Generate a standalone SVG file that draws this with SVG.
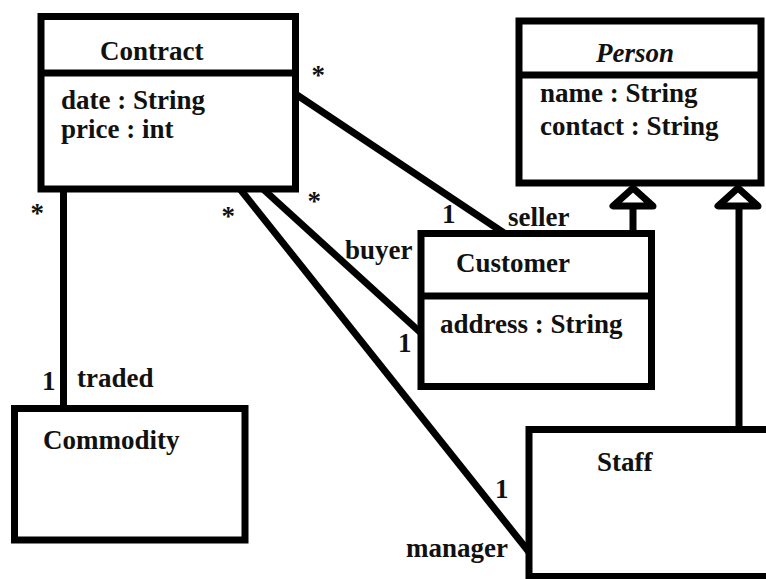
<svg xmlns="http://www.w3.org/2000/svg" width="766" height="579" viewBox="0 0 766 579">
<style>
.box{fill:#fff;stroke:#000;stroke-width:7}
.ln{fill:none;stroke:#000;stroke-width:7}
.tri{fill:#fff;stroke:#000;stroke-width:7;stroke-linejoin:round}
text{font-family:"Liberation Serif","Times New Roman",serif;font-weight:bold;font-size:27px;fill:#111}
.it{font-style:italic}
</style>
<rect width="766" height="579" fill="#fff"/>
<g id="connectors">
<line class="ln" x1="63.5" y1="189" x2="63.5" y2="408"/>
<line class="ln" x1="297" y1="95" x2="504" y2="233"/>
<line class="ln" x1="263" y1="189" x2="421" y2="333"/>
<line class="ln" x1="240" y1="189" x2="529" y2="552"/>
<line class="ln" x1="633" y1="205" x2="633" y2="233"/>
<line class="ln" x1="739" y1="205" x2="739" y2="429"/>
<polygon class="tri" points="633,188 613,206 653,206"/>
<polygon class="tri" points="738,188 718,206 758,206"/>
<text x="30.5" y="222">*</text>
<text x="42" y="390">1</text>
<text x="77" y="387">traded</text>
<text x="311.5" y="84">*</text>
<text x="442" y="223">1</text>
<text x="508" y="226">seller</text>
<text x="307.5" y="210">*</text>
<text x="345" y="259">buyer</text>
<text x="398" y="352">1</text>
<text x="221.5" y="225">*</text>
<text x="495" y="498">1</text>
<text x="406" y="557">manager</text>
</g>
<g id="Contract">
<rect class="box" x="41" y="16.5" width="254.5" height="172.5"/>
<line class="ln" x1="41" y1="73" x2="295.5" y2="73"/>
<text x="100" y="60">Contract</text>
<text x="61" y="109">date : String</text>
<text x="61" y="138">price : int</text>
</g>
<g id="Person">
<rect class="box" x="519" y="21" width="242" height="162"/>
<line class="ln" x1="519" y1="75" x2="761" y2="75"/>
<text class="it" x="596" y="62">Person</text>
<text x="540" y="102">name : String</text>
<text x="540" y="135">contact : String</text>
</g>
<g id="Customer">
<rect class="box" x="421" y="233.5" width="230.5" height="153"/>
<line class="ln" x1="421" y1="296" x2="651.5" y2="296"/>
<text x="456" y="272">Customer</text>
<text x="440" y="333">address : String</text>
</g>
<g id="Commodity">
<rect class="box" x="14.5" y="408.5" width="230.5" height="131.5"/>
<text x="43" y="449">Commodity</text>
</g>
<g id="Staff">
<rect class="box" x="529" y="429.5" width="260" height="147"/>
<text x="597" y="471">Staff</text>
</g>
</svg>
